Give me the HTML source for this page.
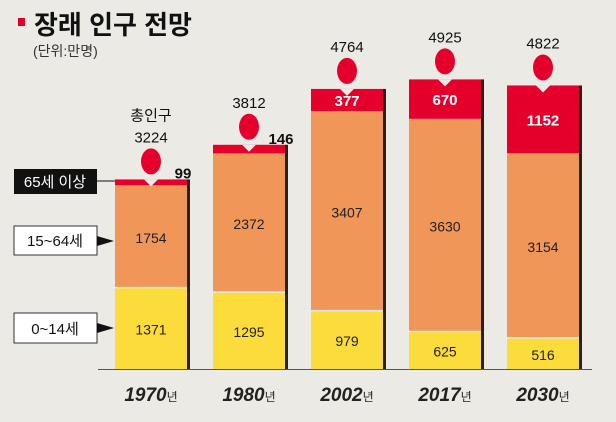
<!DOCTYPE html>
<html><head><meta charset="utf-8"><style>
body{margin:0;background:#ebeae5;}
svg{display:block;font-family:"Liberation Sans","Noto Sans CJK KR",sans-serif;}
</style></head><body>
<svg id="c" width="616" height="422" viewBox="0 0 616 422">
<rect x="0" y="0" width="616" height="422" fill="#ebeae5"/>
<rect x="18" y="18" width="7" height="8" fill="#e4002b"/>
<text x="34" y="34" font-size="26" font-weight="bold" fill="#111">장래 인구 전망</text>
<text x="33" y="56" font-size="14" fill="#333">(단위:만명)</text>
<g>
<rect x="14" y="169" width="83" height="25" fill="#111"/>
<text x="55" y="187" font-size="15" fill="#fff" text-anchor="middle">65세 이상</text>
<line x1="97" y1="181" x2="115" y2="181" stroke="#111" stroke-width="1"/>
</g>
<g>
<rect x="14" y="226" width="83" height="29" fill="#fff" stroke="#333"/>
<text x="55" y="246" font-size="15" fill="#111" text-anchor="middle">15~64세</text>
<polygon points="97,236 114,241 97,246" fill="#111"/>
</g>
<g>
<rect x="14" y="313" width="83" height="30" fill="#fff" stroke="#333"/>
<text x="55" y="334" font-size="15" fill="#111" text-anchor="middle">0~14세</text>
<polygon points="97,323 114,328 97,333" fill="#111"/>
</g>
<line x1="98" y1="369.5" x2="592" y2="369.5" stroke="#555" stroke-width="1"/>
<g id="bars"></g>
</svg>
<script>
const years = ["1970","1980","2002","2017","2030"];
const young = [1371,1295,979,625,516];
const working = [1754,2372,3407,3630,3154];
const elderly = [99,146,377,670,1152];
const totals = [3224,3812,4764,4925,4822];

const NS="http://www.w3.org/2000/svg";
const g=document.getElementById('bars');
const base=369, k=0.0588, x0=115, step=98, bw=72;
const xs=i=>x0+i*step;
const yv=v=>base-v*k;
function mk(tag,attrs,parent){const e=document.createElementNS(NS,tag);for(const a in attrs)e.setAttribute(a,attrs[a]);(parent||g).appendChild(e);return e;}
years.forEach((yr,i)=>{
  const x=xs(i), cx=x+bw/2;
  const grp=mk('g',{});
  
  
  const y1=yv(young[i]), y2=yv(young[i]+working[i]), y3=yv(young[i]+working[i]+elderly[i]);
  const sh=mk('rect',{x:x+bw,y:y3,width:3,height:base-y3,fill:'#2a2018'},grp);
  
  
  const a=mk('rect',{x:x,y:y1,width:bw,height:base-y1,fill:'#fbdc3a'},grp);
  
  
  const b=mk('rect',{x:x,y:y2,width:bw,height:y1-y2-1.5,fill:'#ef9658'},grp);
  
  
  const c=mk('rect',{x:x,y:y3,width:bw,height:y2-y3,fill:'#e4002b'},grp);
  
  
  const n=mk('polygon',{points:`${cx-7},${y3} ${cx+7},${y3} ${cx},${y3+7}`,fill:'#ebeae5'},grp);
  
  
  const bub=mk('ellipse',{cx:cx,cy:y3-18,rx:10,ry:13,fill:'#e4002b'},grp);
  
  
  const t=mk('text',{x:cx,y:y3-37,'font-size':15,'text-anchor':'middle',fill:'#111'},grp);
  t.textContent=totals[i];
  
  
  if(i===0){
    const tt=mk('text',{x:cx,y:y3-59,'font-size':15,'text-anchor':'middle',fill:'#111'},grp);
    tt.textContent='총인구';
    
    
  }
  const ty=mk('text',{x:cx,y:(y1+base)/2+6,'font-size':14,'text-anchor':'middle',fill:'#222'},grp);
  ty.textContent=young[i];
  
  
  const tw=mk('text',{x:cx,y:(y2+y1)/2+6,'font-size':14,'text-anchor':'middle',fill:'#222'},grp);
  tw.textContent=working[i];
  
  
  let te;
  if(y2-y3<14){
    te=mk('text',{x:x+bw-4,y:y3-1,'font-size':15,'font-weight':'bold','text-anchor':'middle',fill:'#111'},grp);
  } else {
    te=mk('text',{x:cx,y:(y3+y2)/2+6,'font-size':15,'font-weight':'bold','text-anchor':'middle',fill:'#fff'},grp);
  }
  te.textContent=elderly[i];
  
  
  const yl=mk('text',{x:cx,y:401,'font-size':19,'font-weight':'bold','font-style':'italic','text-anchor':'middle',fill:'#222'},grp);
  yl.textContent=yr;
  const ys=document.createElementNS(NS,'tspan');ys.setAttribute('font-size','12');ys.setAttribute('font-weight','normal');ys.setAttribute('font-style','normal');ys.textContent='년';yl.appendChild(ys);
  
  
});
</script>
</body></html>
